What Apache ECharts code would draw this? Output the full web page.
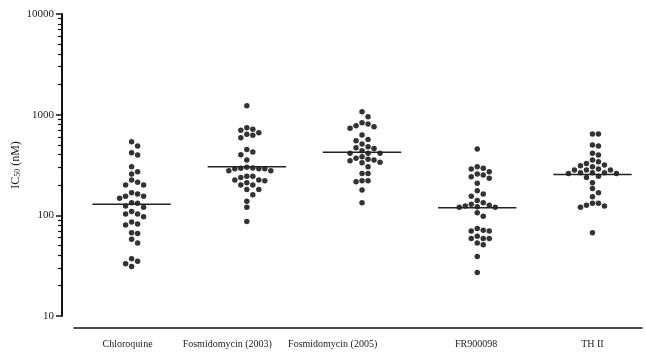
<!DOCTYPE html>
<html>
<head>
<meta charset="utf-8">
<script src="https://cdn.jsdelivr.net/npm/echarts@6/dist/echarts.min.js"></script>
<style>
  html, body { margin: 0; padding: 0; background: #fff; }
  #chart { width: 646px; height: 352px; }
</style>
</head>
<body>
<div id="chart"></div>
<script>
// 各组 IC50 数值 (nM)
const categories = ['Chloroquine', 'Fosmidomycin (2003)', 'Fosmidomycin (2005)', 'FR900098', 'TH II'];
const chloroquine = [538, 488, 419, 397, 304, 271, 257, 224, 213, 200, 200, 168, 163, 155, 155, 148, 133, 132,
  124, 120, 109, 103, 103, 97, 86, 82, 80, 67, 66, 58, 53, 37, 35, 33, 31];
const fosmidomycin2003 = [1225, 740, 715, 700, 660, 640, 625, 590, 450, 425, 400, 355, 300, 295, 293, 290, 290,
  290, 277, 277, 245, 245, 238, 224, 224, 221, 211, 200, 200, 181, 181, 160, 138, 120, 87];
const fosmidomycin2005 = [1069, 953, 831, 807, 776, 758, 731, 627, 568, 551, 511, 480, 469, 462, 438, 413, 413,
  413, 382, 368, 360, 354, 348, 336, 333, 304, 261, 261, 221, 221, 216, 178, 133];
const fr900098 = [455, 304, 293, 289, 271, 257, 251, 242, 233, 208, 175, 163, 155, 140, 133, 129, 126, 124, 122,
  120, 120, 106, 98, 74, 71, 70, 70, 62, 59, 59, 59, 53, 51, 39, 27];
const th2 = [641, 641, 499, 488, 413, 397, 354, 341, 328, 316, 311, 304, 289, 282, 282, 282, 265, 265, 265, 261,
  261, 245, 238, 211, 185, 168, 153, 132, 132, 126, 124, 120, 67];
const medians = [129, 304, 423, 119, 255];
// 横轴标签在原图中的位置 (以组序号为单位)
const labelPositions = [0.965, 1.83, 2.745, 3.99, 5.0];

const groups = [chloroquine, fosmidomycin2003, fosmidomycin2005, fr900098, th2];

// 次刻度，按对数空间放在一个辅助数值轴上 (log10 of 2..9 × 10^n)
const minorTickLogs = [];
for (let p = 1; p < 4; p++) {
  for (let m = 2; m <= 9; m++) minorTickLogs.push(Math.log10(m * Math.pow(10, p)));
}

const X_MIN = 0.5, X_MAX = 5.43;
const PX_PER_X = 568 / (X_MAX - X_MIN);
const PX_PER_DECADE = 302 / 3;
const DOT = 6;

// 简单的蜂群图布局：按数值排序，依次放在不重叠的最近位置
function swarm(values, center) {
  const placed = [];
  const sorted = values.slice().sort((a, b) => b - a);
  sorted.forEach(v => {
    const py = Math.log10(v) * PX_PER_DECADE;
    for (let k = 0; k < 30; k++) {
      const off = k === 0 ? 0 : (k % 2 ? 1 : -1) * Math.ceil(k / 2) * DOT;
      const clash = placed.some(p => {
        const dx = p.px - off, dy = p.py - py;
        return dx * dx + dy * dy < DOT * DOT * 0.9;
      });
      if (!clash) {
        placed.push({ px: off, py: py, v: v });
        break;
      }
    }
  });
  return placed.map(p => [center + p.px / PX_PER_X, p.v]);
}

const serif = "'Liberation Serif', 'DejaVu Serif', serif";

const series = [];
groups.forEach((vals, i) => {
  series.push({
    type: 'scatter',
    name: categories[i],
    symbolSize: 5.5,
    itemStyle: { color: '#000' },
    data: swarm(vals, i + 1),
    silent: true
  });
  // 中位数线
  series.push({
    type: 'line',
    symbol: 'none',
    lineStyle: { color: '#222', width: 1.5 },
    data: [[i + 1 - 0.34, medians[i]], [i + 1 + 0.34, medians[i]]],
    silent: true
  });
});

const chart = echarts.init(document.getElementById('chart'));
chart.setOption({
  animation: false,
  grid: { left: 74, right: 4, top: 14, bottom: 36, outerBoundsMode: 'none' },
  xAxis: {
    type: 'value',
    min: X_MIN,
    max: X_MAX,
    offset: 12,
    axisLine: { show: true, onZero: false, lineStyle: { color: '#111', width: 1.5 } },
    axisTick: { show: false },
    splitLine: { show: false },
    axisLabel: {
      customValues: labelPositions,
      formatter: v => {
        let best = 0;
        labelPositions.forEach((p, k) => {
          if (Math.abs(p - v) < Math.abs(labelPositions[best] - v)) best = k;
        });
        return categories[best];
      },
      fontFamily: serif,
      fontSize: 10,
      color: '#222',
      margin: 11
    }
  },
  yAxis: [
    {
      type: 'log',
      logBase: 10,
      min: 10,
      max: 10000,
      offset: 12,
      name: '{a|IC}{b|50}{a| (nM)}',
      nameLocation: 'middle',
      nameRotate: 90,
      nameGap: 40,
      nameMoveOverlap: false,
      nameTextStyle: {
        rich: {
          a: { fontFamily: serif, fontSize: 12, color: '#222' },
          b: { fontFamily: serif, fontSize: 8, color: '#222', padding: [5, 0, 0, 0] }
        }
      },
      axisLine: { show: true, lineStyle: { color: '#111', width: 2 } },
      axisTick: { show: true, length: 6, lineStyle: { color: '#111', width: 1.5 } },
      splitLine: { show: false },
      axisLabel: {
        formatter: v => String(Math.round(v)),
        fontFamily: serif,
        fontSize: 11,
        color: '#222',
        margin: 8
      }
    },
    {
      // 辅助轴：只画对数次刻度
      type: 'value',
      min: 1,
      max: 4,
      offset: 12,
      position: 'left',
      axisLine: { show: false },
      axisTick: { show: true, customValues: minorTickLogs, length: 4, lineStyle: { color: '#111', width: 1.2 } },
      splitLine: { show: false },
      axisLabel: { show: false }
    }
  ],
  series: series
});

window.addEventListener('resize', () => {
  chart.resize();
});
</script>
</body>
</html>
